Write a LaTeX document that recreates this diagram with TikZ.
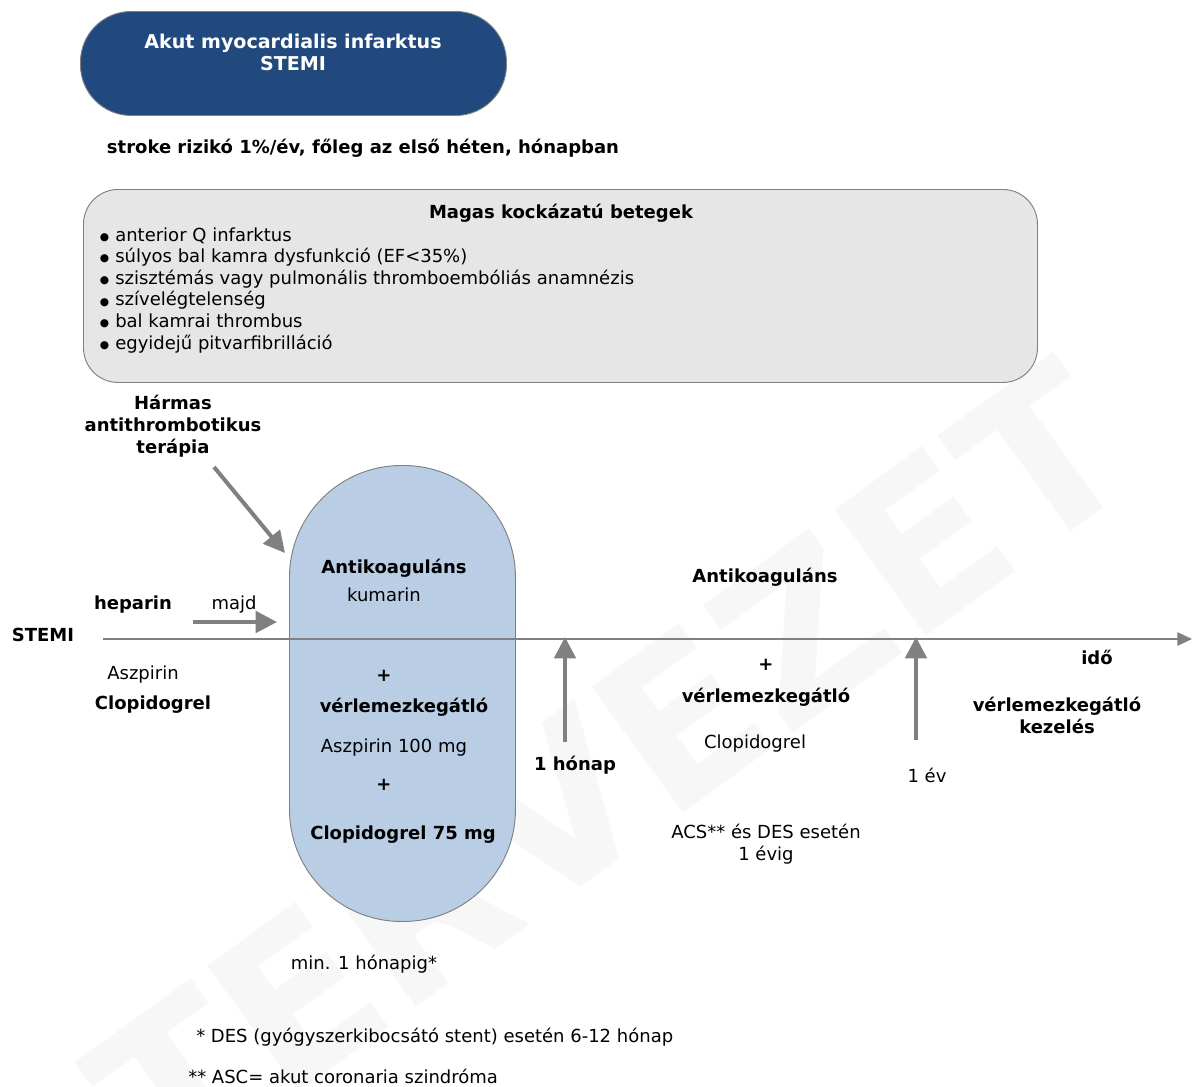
\documentclass[tikz,border=0pt]{standalone}
\usepackage{fontspec}
\setmainfont{DejaVu Sans}
\usetikzlibrary{arrows.meta}
\definecolor{navy}{RGB}{33,73,125}
\definecolor{capsulefill}{RGB}{185,205,228}
\definecolor{panelfill}{RGB}{230,230,230}
\definecolor{edgegray}{RGB}{128,128,128}
\definecolor{arrowgray}{RGB}{128,128,128}
\newcommand{\bulletmark}{\llap{\raisebox{0.5pt}{\fontsize{8}{8}\selectfont ●}\hspace{4.5pt}}}
\begin{document}
\begin{tikzpicture}[x=0.75pt,y=-0.75pt,
  txt/.style={font=\fontsize{13.5}{16.5}\selectfont, inner sep=0pt, align=center},
  btxt/.style={font=\fontsize{13.5}{16.5}\selectfont\bfseries, inner sep=0pt, align=center},
  fatarrow/.style={draw=arrowgray, line width=3pt, -{Triangle[length=16pt,width=16pt]}},
  axisline/.style={draw=arrowgray, line width=1.1pt, -{Triangle[length=11pt,width=10pt]}},
  pill/.style={draw=edgegray, line width=0.7pt}
]
\useasboundingbox (0,0) rectangle (1192,1086);
\fill[white] (0,0) rectangle (1192,1086);

% faint draft watermark
\node[text=black!3, rotate=36, font=\fontsize{160}{160}\selectfont\bfseries, inner sep=0pt]
  (wm) at (610,770) {TERVEZET};

% title pill
\node[pill, fill=navy, rounded corners=38pt, minimum width=319.5pt, minimum height=78pt,
      anchor=north west, inner sep=0pt] (ami) at (80,11) {};
\node[btxt, text=white, font=\fontsize{14.3}{16.5}\selectfont\bfseries] (amitxt) at (293,52)
  {Akut myocardialis infarktus\\STEMI};

\node[btxt] (risk) at (363,148) {stroke rizikó 1\%/év, főleg az első héten, hónapban};

% high-risk panel
\node[pill, fill=panelfill, rounded corners=26pt, minimum width=715.5pt, minimum height=144.75pt,
      anchor=north west, inner sep=0pt] (panel) at (83,189) {};
\node[btxt] (paneltitle) at (561,213) {Magas kockázatú betegek};
\node[txt, align=left, anchor=base west, font=\fontsize{13.5}{16.2}\selectfont] (risklist) at (115,349)
  {\bulletmark anterior Q infarktus\\
   \bulletmark súlyos bal kamra dysfunkció (EF<35\%)\\
   \bulletmark szisztémás vagy pulmonális thromboembóliás anamnézis\\
   \bulletmark szívelégtelenség\\
   \bulletmark bal kamrai thrombus\\
   \bulletmark egyidejű pitvarfibrilláció};

% triple therapy capsule
\node[pill, fill=capsulefill, rounded corners=84pt, minimum width=169.5pt, minimum height=342pt,
      anchor=north west, inner sep=0pt] (capsule) at (289,465) {};

\node[btxt] (triple) at (173,426) {Hármas\\antithrombotikus\\terápia};
\coordinate (tripleA) at (214,467);
\coordinate (tripleB) at (285,553);
\draw[fatarrow] (tripleA) -- (tripleB);

% time axis
\node[btxt] (stemi) at (43,635) {STEMI};
\coordinate (axisstart) at (103,639);
\coordinate (axisend) at (1192,639);
\draw[axisline] (axisstart) -- (axisend);

\node[btxt] (heparin) at (133,605) {heparin};
\node[txt] (majd) at (234,605) {majd};
\coordinate (majdA) at (193,622);
\coordinate (majdB) at (277,622);
\draw[fatarrow] (majdA) -- (majdB);
\node[txt] (aspirin0) at (143,675) {Aszpirin};
\node[btxt] (clopi0) at (153,705) {Clopidogrel};

% inside the capsule
\node[btxt] (anti1) at (394,568) {Antikoaguláns};
\node[txt] (kumarin) at (384,595) {kumarin};
\node[btxt] (plus1) at (384,676) {+};
\node[btxt] (verl1) at (404,707) {vérlemezkegátló};
\node[txt] (asp100) at (394,748) {Aszpirin 100 mg};
\node[btxt] (plus2) at (384,785) {+};
\node[btxt] (clopi75) at (403,835) {Clopidogrel 75 mg};
\node[txt] (minmonth) at (364,964) {min. 1 hónapig*};

% one month marker
\coordinate (monthfoot) at (565,742);
\coordinate (monthtip) at (565,637);
\draw[fatarrow] (monthfoot) -- (monthtip);
\node[btxt] (month) at (575,765) {1 hónap};

% dual therapy phase
\node[btxt] (anti2) at (765,577) {Antikoaguláns};
\node[btxt] (plus3) at (766,665) {+};
\node[btxt] (verl2) at (766,697) {vérlemezkegátló};
\node[txt] (clopi2) at (755,744) {Clopidogrel};
\node[txt] (acs) at (766,844) {ACS** és DES esetén\\1 évig};

% one year marker
\coordinate (yearfoot) at (916,740);
\coordinate (yeartip) at (916,637);
\draw[fatarrow] (yearfoot) -- (yeartip);
\node[txt] (year) at (927,775) {1 év};

\node[btxt] (ido) at (1097,657) {idő};
\node[btxt] (verl3) at (1057,715) {vérlemezkegátló\\kezelés};

% footnotes
\node[txt, anchor=west] (fn1) at (196,1037) {* DES (gyógyszerkibocsátó stent) esetén 6-12 hónap};
\node[txt, anchor=west] (fn2) at (188,1076) {** ASC= akut coronaria szindróma};
\end{tikzpicture}
\end{document}
